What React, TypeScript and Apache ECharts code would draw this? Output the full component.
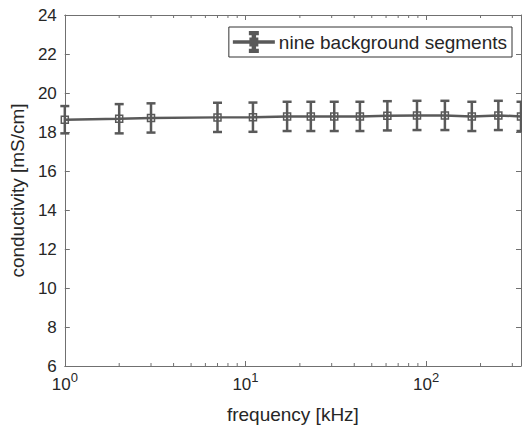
import React, { useEffect, useRef } from 'react';
import * as echarts from 'echarts';

const frequencies = [1, 2, 3, 7, 11, 17, 23, 31, 43, 61, 89, 127, 179, 251, 335];
const conductivity = [18.63, 18.68, 18.72, 18.75, 18.76, 18.8, 18.8, 18.8, 18.8, 18.83, 18.85, 18.85, 18.8, 18.85, 18.8];
const errors = [0.7, 0.75, 0.75, 0.75, 0.75, 0.75, 0.75, 0.75, 0.75, 0.75, 0.75, 0.75, 0.75, 0.75, 0.75];
const minorTickValues = [2, 3, 4, 5, 6, 7, 8, 9, 20, 30, 40, 50, 60, 70, 80, 90, 200, 300];
const seriesName = 'nine background segments';
const xTitle = 'frequency [kHz]';
const yTitle = 'conductivity [mS/cm]';

const FONT = '"Liberation Sans", Arial, Helvetica, sans-serif';
const TEXT = '#262626';
const AXIS = '#707070';
const LINE = '#595959';

const legendIcon =
  'path://M0 9.3H40V10.7H0Z M18.8 1H21.2V19H18.8Z M16 0H24V2.2H16Z M16 17.8H24V20H16Z M16.5 6.5H23.5V13.5H16.5Z';

export default function App() {
  const ref = useRef<HTMLDivElement>(null);
  useEffect(() => {
    document.body.style.margin = '0';
    const chart = echarts.init(ref.current!, null, { renderer: 'svg' });
    const lineData = frequencies.map((f, i) => [f, conductivity[i]]);
    const errData = frequencies.map((f, i) => [f, conductivity[i], errors[i]]);
    const xMin = 1;
    const xMax = frequencies[frequencies.length - 1];
    const yMin = 6;
    const yMax = 24;

    const option: any = {
      animation: false,
      backgroundColor: '#ffffff',
      textStyle: { fontFamily: FONT },
      grid: { left: 63, right: 1, top: 15, bottom: 62 },
      legend: {
        data: [{ name: seriesName, icon: legendIcon, itemStyle: { color: LINE } }],
        right: 10,
        top: 27,
        itemWidth: 40,
        itemHeight: 20,
        padding: [4, 5, 4, 4],
        borderColor: '#333333',
        borderWidth: 1,
        backgroundColor: '#ffffff',
        textStyle: { fontSize: 19, color: TEXT, fontFamily: FONT },
      },
      xAxis: [
        {
          type: 'log',
          logBase: 10,
          min: xMin,
          max: xMax,
          name: xTitle,
          nameLocation: 'middle',
          nameGap: 39,
          nameTextStyle: { fontSize: 19, color: TEXT, fontFamily: FONT },
          axisLine: { show: true, lineStyle: { color: AXIS, width: 1 } },
          axisTick: { show: true, inside: true, length: 5, lineStyle: { color: AXIS } },
          splitLine: { show: false },
          axisLabel: {
            margin: 5,
            showMaxLabel: false,
            formatter: (v: number) => {
              const e = Math.round(Math.log10(v));
              if (Math.abs(v - Math.pow(10, e)) > 1e-6) return '';
              return `{a|10}{b|${e}}`;
            },
            rich: {
              a: { fontSize: 17, lineHeight: 26, color: TEXT, fontFamily: FONT },
              b: { fontSize: 13, lineHeight: 8, verticalAlign: 'top', color: TEXT, fontFamily: FONT },
            },
          },
        },
        {
          type: 'log',
          logBase: 10,
          min: xMin,
          max: xMax,
          position: 'top',
          axisLine: { show: true, lineStyle: { color: AXIS, width: 1 } },
          axisTick: { show: true, inside: true, length: 5, lineStyle: { color: AXIS } },
          axisLabel: { show: false },
          splitLine: { show: false },
        },
      ],
      yAxis: [
        {
          type: 'value',
          min: yMin,
          max: yMax,
          interval: 2,
          name: yTitle,
          nameLocation: 'middle',
          nameGap: 29,
          nameTextStyle: { fontSize: 19, color: TEXT, fontFamily: FONT },
          axisLine: { show: true, lineStyle: { color: AXIS, width: 1 } },
          axisTick: { show: true, inside: true, length: 5, lineStyle: { color: AXIS } },
          splitLine: { show: false },
          axisLabel: { margin: 8, fontSize: 17, color: TEXT, fontFamily: FONT },
        },
        {
          type: 'value',
          min: yMin,
          max: yMax,
          interval: 2,
          position: 'right',
          axisLine: { show: true, lineStyle: { color: AXIS, width: 1 } },
          axisTick: { show: true, inside: true, length: 5, lineStyle: { color: AXIS } },
          axisLabel: { show: false },
          splitLine: { show: false },
        },
      ],
      series: [
        {
          type: 'custom',
          name: 'minorTicks',
          xAxisIndex: 0,
          yAxisIndex: 0,
          silent: true,
          clip: false,
          data: minorTickValues.map((v) => [v]),
          encode: { x: 0 },
          renderItem: (params: any, api: any) => {
            const v = api.value(0);
            const b = api.coord([v, yMin]);
            const t = api.coord([v, yMax]);
            const st = { stroke: AXIS, lineWidth: 1 };
            return {
              type: 'group',
              children: [
                { type: 'line', shape: { x1: b[0], y1: b[1], x2: b[0], y2: b[1] - 3 }, style: st },
                { type: 'line', shape: { x1: t[0], y1: t[1], x2: t[0], y2: t[1] + 3 }, style: st },
              ],
            };
          },
          z: 1,
        },
        {
          type: 'custom',
          name: 'errorBars',
          xAxisIndex: 0,
          yAxisIndex: 0,
          silent: true,
          clip: false,
          data: errData,
          encode: { x: 0, y: 1 },
          renderItem: (params: any, api: any) => {
            const x = api.value(0);
            const y = api.value(1);
            const e = api.value(2);
            const hi = api.coord([x, y + e]);
            const lo = api.coord([x, y - e]);
            const cw = 4.5;
            const st = { stroke: LINE, lineWidth: 2.5 };
            return {
              type: 'group',
              children: [
                { type: 'line', shape: { x1: hi[0], y1: hi[1], x2: lo[0], y2: lo[1] }, style: st },
                { type: 'line', shape: { x1: hi[0] - cw, y1: hi[1], x2: hi[0] + cw, y2: hi[1] }, style: st },
                { type: 'line', shape: { x1: lo[0] - cw, y1: lo[1], x2: lo[0] + cw, y2: lo[1] }, style: st },
              ],
            };
          },
          z: 2,
        },
        {
          type: 'line',
          name: seriesName,
          xAxisIndex: 0,
          yAxisIndex: 0,
          data: lineData,
          symbol: 'rect',
          symbolSize: 7,
          lineStyle: { color: LINE, width: 2.5 },
          itemStyle: { color: 'rgba(255,255,255,0)', borderColor: LINE, borderWidth: 1.5 },
          emphasis: { disabled: true },
          clip: false,
          z: 3,
        },
      ],
    };
    chart.setOption(option);
    return () => chart.dispose();
  }, []);
  return <div ref={ref} style={{ width: 522, height: 429 }} />;
}
